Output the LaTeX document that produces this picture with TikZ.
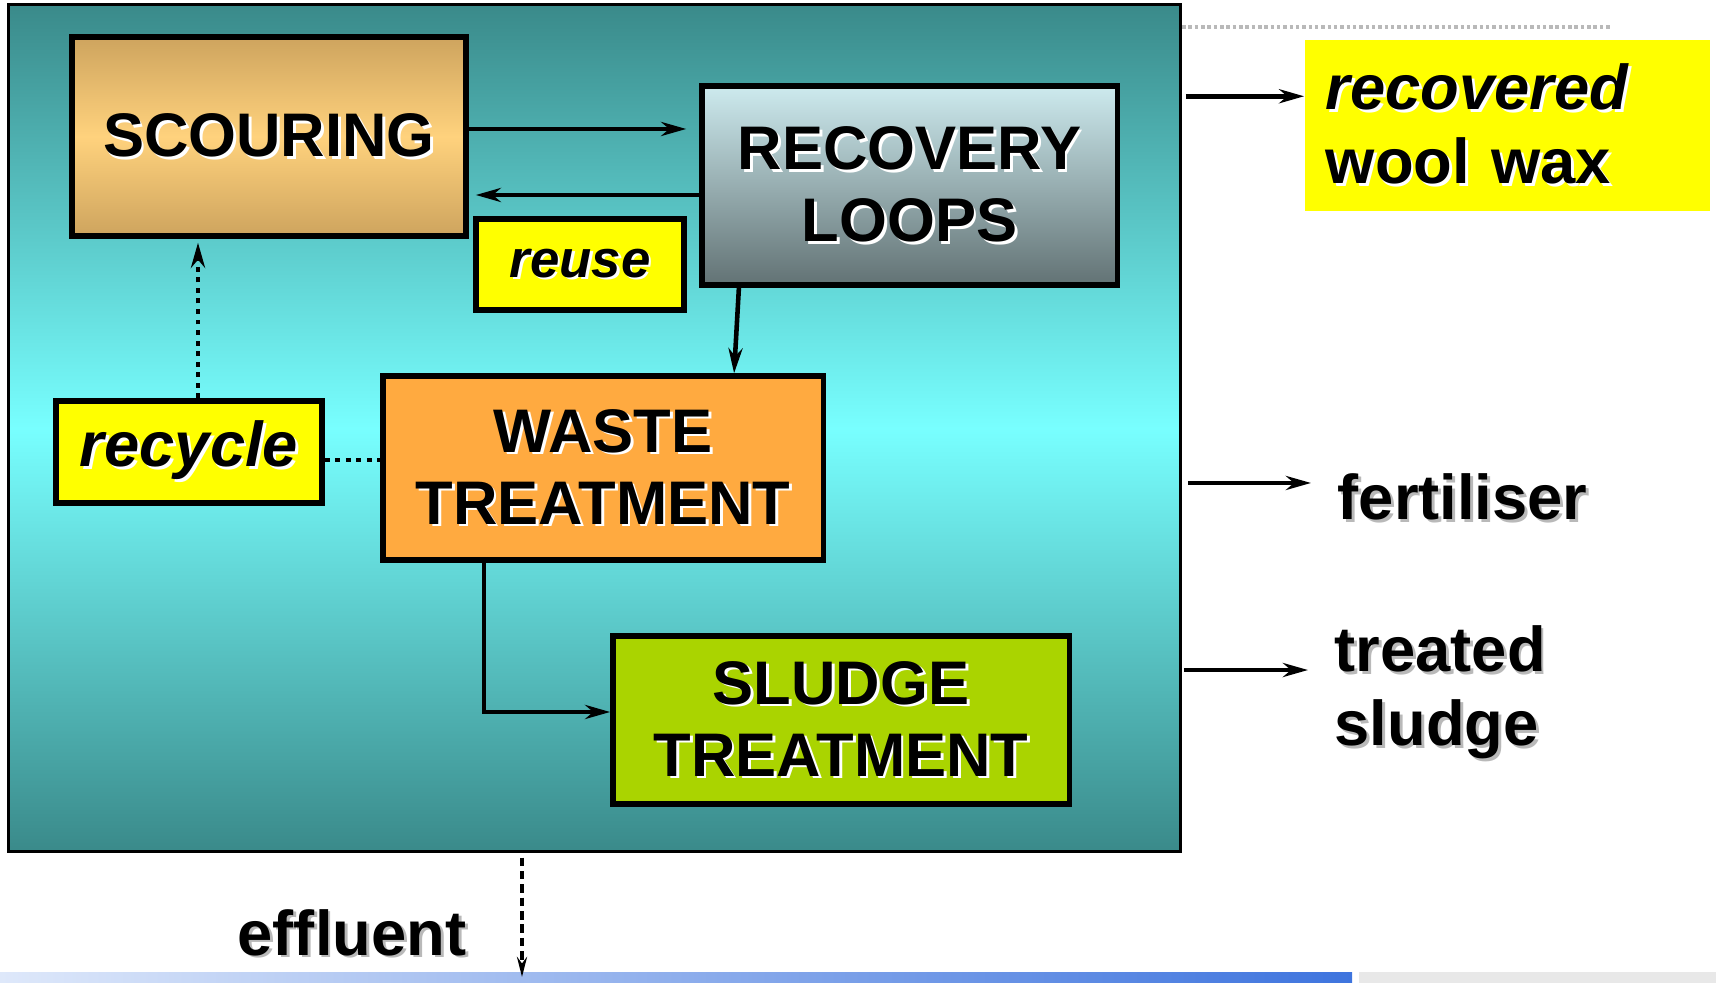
\documentclass[tikz,border=0pt]{standalone}
\usepackage{fontspec}
\setmainfont{Liberation Sans}
\usetikzlibrary{arrows.meta, positioning, calc}
\definecolor{plantTeal}{RGB}{58,138,138}
\definecolor{plantCyan}{RGB}{120,255,255}
\definecolor{scourTan}{RGB}{206,164,94}
\definecolor{scourLight}{RGB}{255,210,125}
\definecolor{recovTop}{RGB}{205,234,238}
\definecolor{recovBottom}{RGB}{98,114,116}
\definecolor{wasteOrange}{RGB}{255,170,64}
\definecolor{sludgeGreen}{RGB}{170,212,0}
\definecolor{tagYellow}{RGB}{255,255,0}
\definecolor{stripLight}{RGB}{222,232,250}
\definecolor{stripBlue}{RGB}{62,116,222}

\newcommand{\glowtext}[2][white]{\leavevmode\rlap{\kern0.8pt\raisebox{-0.8pt}{\textcolor{#1}{#2}}}#2}

\begin{document}
\begin{tikzpicture}[
    x=0.01cm, y=-0.01cm,
    every node/.style={font=\bfseries\fontsize{17.5}{20.5}\selectfont},
    block/.style={rectangle, draw, line width=1.5pt, align=center, inner sep=0pt},
    tag/.style={block, fill=tagYellow, font=\bfseries\itshape\fontsize{18}{21}\selectfont},
    outlabel/.style={font=\bfseries\fontsize{18}{21}\selectfont, align=left, inner sep=0.08cm},
    arrow/.style={-{Stealth[length=2.5mm, width=1.4mm, inset=0.8mm]}, line width=1.3pt},
    dotline/.style={line width=1.4pt, dash pattern=on 1.4pt off 1.6pt}
]
\useasboundingbox (0,0) rectangle (1716,983);

% Plant panel
\node[block, line width=0.8pt, minimum width=11.71cm, minimum height=8.46cm, top color=plantTeal, bottom color=plantTeal, middle color=plantCyan] (plant) at (594.5,428) {};
\draw[gray!55, line width=0.9pt, dash pattern=on 1pt off 0.8pt] (1182,27) -- (1610,27);

% Process blocks
\node[block, minimum width=3.94cm, minimum height=1.99cm, top color=scourTan, bottom color=scourTan, middle color=scourLight] (scour) at (269,136.5) {\glowtext{SCOURING}};
\node[block, minimum width=4.15cm, minimum height=1.99cm, top color=recovTop, bottom color=recovBottom] (recov) at (909.5,185.5) {\glowtext{RECOVERY}\\\glowtext{LOOPS}};
\node[tag, minimum width=2.08cm, minimum height=0.91cm, font=\bfseries\itshape\fontsize{15}{18}\selectfont] (reuse) at (580,264.5) {\glowtext{reuse}};
\node[tag, minimum width=2.66cm, minimum height=1.02cm] (recycle) at (189,452) {\glowtext{recycle}};
\node[block, fill=wasteOrange, minimum width=4.40cm, minimum height=1.84cm] (waste) at (603,468) {\glowtext{WASTE}\\\glowtext{TREATMENT}};
\node[block, fill=sludgeGreen, minimum width=4.56cm, minimum height=1.68cm] (sludge) at (841,720) {\glowtext{SLUDGE}\\\glowtext{TREATMENT}};

% Products
\node[fill=tagYellow, inner xsep=0.21cm, text width=3.63cm, minimum height=1.71cm, align=left, font=\bfseries\fontsize{18}{21}\selectfont] (wax) at (1507.5,125.5) {\glowtext{\textit{recovered}}\\\glowtext{wool wax}};
\node[outlabel, anchor=base west] (fert) at (1329,520) {\glowtext[gray!55]{fertiliser}};
\node[outlabel, anchor=north west] (tsludge) at (1326,617) {\glowtext[gray!55]{treated}\\\glowtext[gray!55]{sludge}};
\node[outlabel, anchor=base] (effluent) at (352,955) {\glowtext[gray!55]{effluent}};

% Bottom strip
\fill[left color=stripLight, right color=stripBlue] (0,972) rectangle (1352,983);
\fill[gray!18] (1359,972) rectangle (1716,983);
\coordinate (outfall) at (522,977);

% Arrows inside
\coordinate (s1) at ([yshift=0.075cm]scour.east);
\draw[arrow, shorten >=0.13cm] (s1) -- (s1 -| recov.west);
\coordinate (r1) at ([yshift=-0.095cm]recov.west);
\draw[arrow, shorten >=0.07cm] (r1) -- (r1 -| scour.east);
\draw[arrow] ([xshift=-1.705cm]recov.south) -- ([xshift=1.31cm]waste.north);
\draw[arrow] ([xshift=-1.19cm]waste.south) |- ([yshift=0.08cm]sludge.west);

% Recycle
\coordinate (c1) at ([yshift=-0.08cm]recycle.east);
\draw[dotline] (c1) -- (c1 -| waste.west);
\coordinate (c2) at ([xshift=0.09cm]recycle.north);
\draw[dotline, -{Stealth[length=2.5mm, width=1.4mm, inset=0.8mm]}, shorten >=0.04cm] (c2) -- (c2 |- scour.south);

% Arrows out
\coordinate (w1) at ([yshift=-0.57cm]wax.north west);
\draw[arrow, shorten <=0.04cm] (plant.east |- w1) -- (w1);
\coordinate (f1) at ([yshift=0.37cm]fert.base west);
\draw[arrow, shorten <=0.06cm, shorten >=0.18cm] (plant.east |- f1) -- (f1);
\coordinate (t1) at ([yshift=-0.53cm]tsludge.north west);
\draw[arrow, shorten <=0.02cm, shorten >=0.18cm] (plant.east |- t1) -- (t1);
\draw[line width=1pt, dash pattern=on 2.4pt off 1.4pt, -{Stealth[length=2mm, width=1mm]}, shorten <=0.05cm] (plant.south -| outfall) -- (outfall);

\end{tikzpicture}
\end{document}
